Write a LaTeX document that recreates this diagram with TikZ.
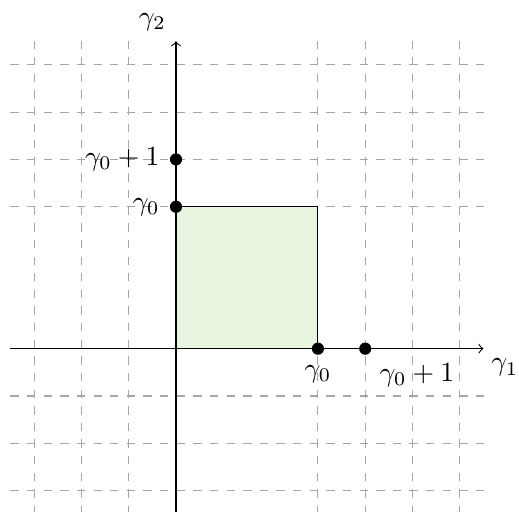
\documentclass[tikz,border=0pt]{standalone}
\definecolor{boxfill}{RGB}{232,245,225}
\begin{document}
\begin{tikzpicture}[x=0.6cm,y=0.6cm,
  gridline/.style={dashed,gray!70,line width=0.4pt},
  axisline/.style={->,line width=0.4pt,black},
  dot/.style={circle,fill=black,inner sep=0pt,minimum size=4.4pt},
  lab/.style={inner sep=3.33pt}]
\useasboundingbox (-3.72,-3.44) rectangle (7.25,7.37);
% grid
\foreach \v in {-3,-2,-1,3,4,5,6}{
  \draw[gridline] (\v,-3.5) -- (\v,6.5);
  \draw[gridline] (-3.5,\v) -- (6.5,\v);
}
% box
\draw[fill=boxfill,draw=black] (0,0) rectangle (3,3);
% axes
\coordinate (xs) at (-3.5,0);
\coordinate (xe) at (6.5,0);
\coordinate (ys) at (0,-3.5);
\coordinate (ye) at (0,6.5);
\draw[axisline] (xs) -- (xe);
\draw[axisline] (ys) -- (ye);
\node (g1) at (6.95,-0.4) {$\gamma_1$};
\node (g2) at (-0.5,6.9) {$\gamma_2$};
% dots
\node[dot,label={below:$\gamma_0$}] (x0) at (3,0) {};
\node[dot,label={[lab,anchor=north west]south east:$\gamma_0+1$}] (x1) at (4,0) {};
\node[dot,label={left:$\gamma_0$}] (y0) at (0,3) {};
\node[dot,label={left:$\gamma_0+1$}] (y1) at (0,4) {};
\end{tikzpicture}
\end{document}
